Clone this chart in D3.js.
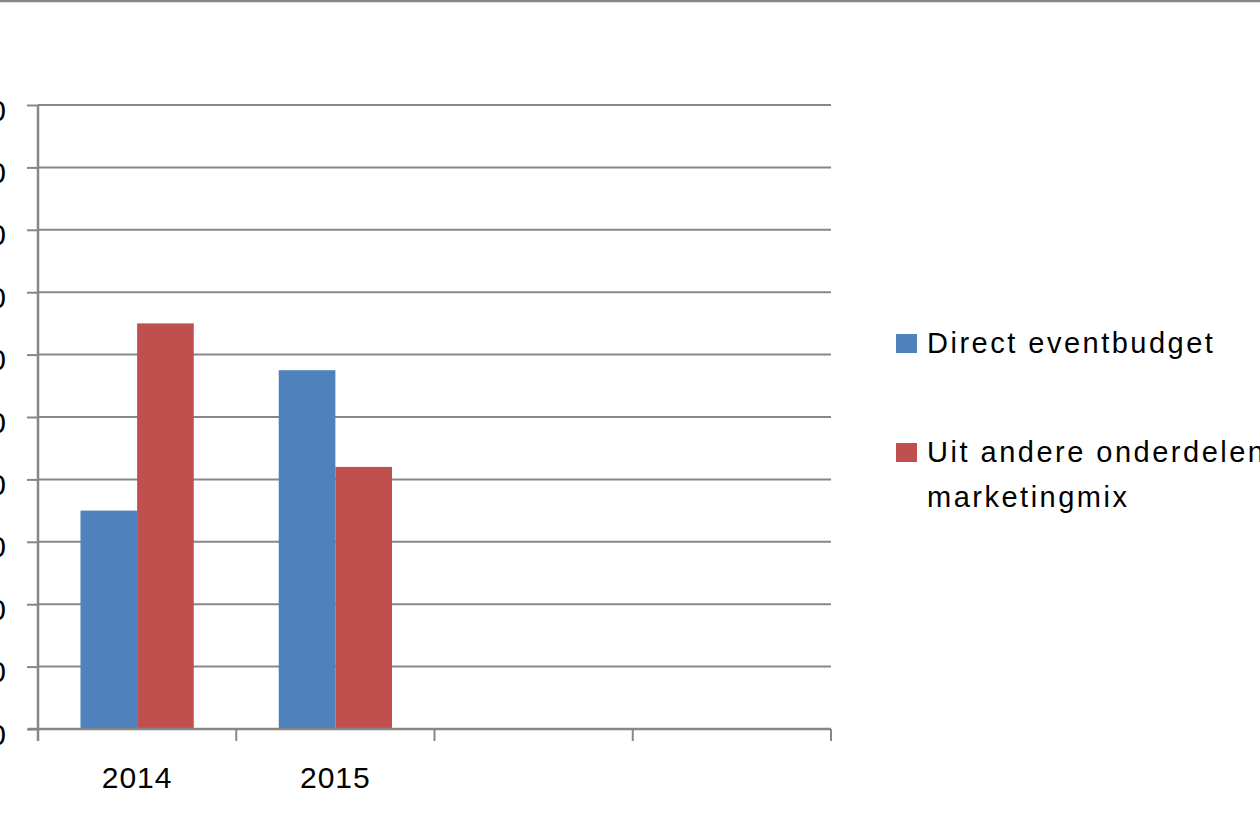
<!DOCTYPE html>
<html>
<head>
<meta charset="utf-8">
<script src="https://cdn.jsdelivr.net/npm/d3@7"></script>
<style>
	body { margin: 0; background: #fff; }
	svg { display: block; }
</style>
</head>
<body>
<svg id="svg"></svg>
<script>
// categories on x axis (two empty slots in the original sheet)
var categories = ["2014", "2015", "", ""]

// series names, shown in the legend
var series = ["Direct eventbudget", "Uit andere onderdelen marketingmix"]

// values per series, one per category (null = empty)
var directValues = [35, 57.5, null, null]
var andereValues = [65, 42, null, null]

// y ticks: labels are cut off at the left edge, only the last digit shows
var yTicks = [0, 10, 20, 30, 40, 50, 60, 70, 80, 90, 100]

// legend lines (second entry wraps)
var legendLines = [["Direct eventbudget"], ["Uit andere onderdelen", "marketingmix"]]

var colors = ["#4f81bd", "#c0504d"]

Grafiek =
{
	width: 1260,
	height: 840,
	gridColor: "#878787",

	init_canevas()
	{
		canevas = d3.select("#svg")
			.attr("width", this.width)
			.attr("height", this.height)
			.style("font-family", "'Liberation Sans', Arial, sans-serif")

		// chart frame, only the top edge is in the picture
		canevas.append("line")
			.attr("x1", 0).attr("x2", this.width)
			.attr("y1", 1).attr("y2", 1)
			.attr("stroke", this.gridColor)
			.attr("stroke-width", 2.5)
	},

	scales()
	{
		this.x = d3.scaleBand()
			.domain(d3.range(categories.length))
			.range([38, 831])
			.paddingInner(0)
			.paddingOuter(0)

		// gap width 150% : 0.75 bar on each side
		this.xSeries = d3.scaleBand()
			.domain(d3.range(series.length))
			.range([0, this.x.bandwidth()])
			.paddingInner(0)
			.paddingOuter(0.75)

		this.y = d3.scaleLinear()
			.domain([0, 100])
			.range([729, 105])
	},

	draw_grid()
	{
		var that = this

		canevas.append("g")
			.selectAll("line")
			.data(yTicks)
			.enter()
			.append("line")
			.attr("x1", that.x.range()[0])
			.attr("x2", that.x.range()[1])
			.attr("y1", function(d){ return that.y(d) })
			.attr("y2", function(d){ return that.y(d) })
			.attr("stroke", that.gridColor)
			.attr("stroke-width", 2)
	},

	draw_bars()
	{
		var that = this
		var data = [directValues, andereValues]

		data.forEach(function(values, s){
			canevas.append("g")
				.selectAll("rect")
				.data(values.map(function(v, i){ return {i: i, v: v} }).filter(function(d){ return d.v != null }))
				.enter()
				.append("rect")
				.attr("x", function(d){ return that.x(d.i) + that.xSeries(s) })
				.attr("width", that.xSeries.bandwidth())
				.attr("y", function(d){ return that.y(d.v) })
				.attr("height", function(d){ return that.y(0) - that.y(d.v) })
				.attr("fill", colors[s])
		})
	},

	draw_axes()
	{
		var that = this

		// y axis
		var yAxis = canevas.append("g")
			.attr("transform", "translate(" + that.x.range()[0] + ",0)")
			.call(d3.axisLeft(that.y).tickValues(yTicks).tickSize(11).tickPadding(21).tickSizeOuter(0))

		yAxis.select(".domain").attr("stroke", that.gridColor).attr("stroke-width", 2.5)
			.attr("d", "M0," + that.y(100) + "V" + (that.y(0) + 12))
		yAxis.selectAll(".tick line").attr("stroke", that.gridColor).attr("stroke-width", 2)
		yAxis.selectAll(".tick text")
			.attr("fill", "#000")
			.attr("dy", "0.5em")
			.style("font-size", "30px")

		// x axis : ticks between categories
		var xAxis = canevas.append("g")
			.attr("transform", "translate(0," + that.y(0) + ")")

		xAxis.append("line")
			.attr("x1", that.x.range()[0] - 10)
			.attr("x2", that.x.range()[1])
			.attr("stroke", that.gridColor)
			.attr("stroke-width", 2.5)

		var bounds = d3.range(categories.length + 1).map(function(i){
			return i < categories.length ? that.x(i) : that.x.range()[1]
		})

		xAxis.selectAll(".tk")
			.data(bounds)
			.enter()
			.append("line")
			.attr("x1", function(d){ return d })
			.attr("x2", function(d){ return d })
			.attr("y1", 0)
			.attr("y2", 12)
			.attr("stroke", that.gridColor)
			.attr("stroke-width", 2)

		xAxis.selectAll(".lbl")
			.data(categories)
			.enter()
			.append("text")
			.text(function(d){ return d })
			.attr("x", function(d, i){ return that.x(i) + that.x.bandwidth() / 2 })
			.attr("y", 59)
			.attr("text-anchor", "middle")
			.attr("fill", "#000")
			.style("font-size", "30px")
			.style("letter-spacing", "1px")
	},

	draw_legend()
	{
		var rows = [334, 443]

		legendLines.forEach(function(lines, s){
			canevas.append("rect")
				.attr("x", 896)
				.attr("y", rows[s])
				.attr("width", 21)
				.attr("height", 19)
				.attr("fill", colors[s])

			var t = canevas.append("text")
				.attr("x", 927)
				.attr("y", rows[s] + 19)
				.attr("fill", "#000")
				.style("font-size", "29px")
				.style("letter-spacing", "2.5px")

			lines.forEach(function(l, k){
				t.append("tspan")
					.attr("x", 927)
					.attr("dy", k == 0 ? 0 : 45)
					.text(l)
			})
		})
	},

	init()
	{
		this.init_canevas()
		this.scales()
		this.draw_grid()
		this.draw_bars()
		this.draw_axes()
		this.draw_legend()
	}
}

Grafiek.init()
</script>
</body>
</html>
